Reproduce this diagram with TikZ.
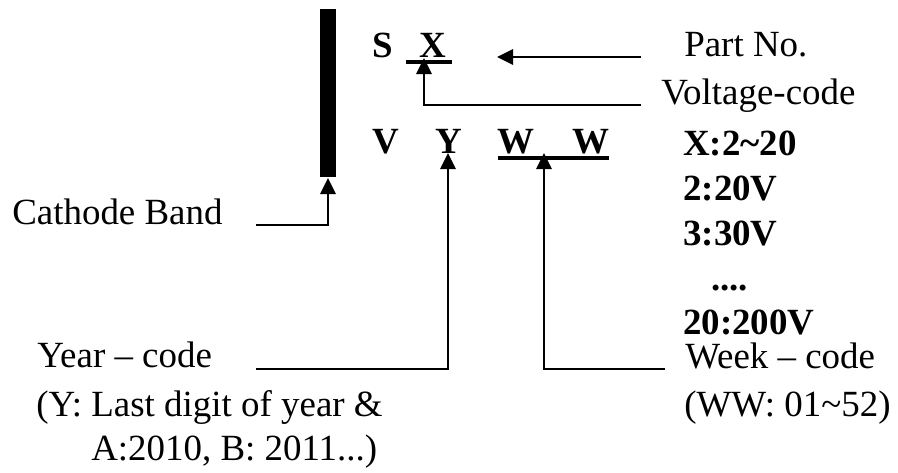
\documentclass[tikz,border=0pt]{standalone}
\usepackage{fontspec}
\setmainfont{Liberation Serif}
\usetikzlibrary{arrows.meta}
\tikzset{
 lbl/.style={inner sep=0pt,anchor=base west,font=\fontsize{27.7}{30}\selectfont},
 blbl/.style={lbl,font=\fontsize{27.7}{30}\selectfont\bfseries},
 conn/.style={line width=1.3pt,-{Triangle[length=12pt,width=11.5pt]}},
 rule/.style={line width=2.5pt}
}
\begin{document}
\begin{tikzpicture}[x=0.75pt,y=-0.75pt]
\useasboundingbox (0,0) rectangle (898,472);
\fill (320,9) rectangle (336,177);
\node[blbl] (s) at (372,57) {S};
\node[blbl] (x) at (419,57) {X};
\node[blbl] (v) at (372,153) {V};
\node[blbl] (y) at (435,153) {Y};
\node[blbl] (w1) at (497,153) {W};
\node[blbl] (w2) at (572,153) {W};
\node[lbl] (part) at (684,56) {Part No.};
\node[lbl] (volt) at (661,104) {Voltage-code};
\node[blbl] (xr) at (683,155) {X:2\textasciitilde20};
\node[blbl] (v2) at (683,200) {2:20V};
\node[blbl] (v3) at (683,245) {3:30V};
\node[blbl] (dots) at (711,290) {....};
\node[blbl] (v20) at (683,334) {20:200V};
\node[lbl] (cath) at (12,224) {Cathode Band};
\node[lbl] (year) at (37,367) {Year -- code};
\node[lbl] (yeara) at (36,416) {(Y: Last digit of year \&};
\node[lbl] (yearb) at (91,460) {A:2010, B: 2011...)};
\node[lbl] (week) at (685,368) {Week -- code};
\node[lbl] (weeka) at (684,416) {(WW: 01\textasciitilde52)};
\coordinate (barb) at (328,178);
\coordinate (a1) at (641,57);
\coordinate (a1e) at (497,57);
\coordinate (a2) at (641,105);
\coordinate (a2e) at (424,58);
\coordinate (a3) at (256,225);
\coordinate (a4) at (256,369);
\coordinate (a4e) at (448,153);
\coordinate (a5) at (665,369);
\coordinate (a5e) at (544,153);
\draw[rule] (406,62) -- (452,62);
\draw[rule] (498,158) -- (609,158);
\draw[conn] (a1) -- (a1e);
\draw[conn] (a2) -| (a2e);
\draw[conn] (a3) -| (barb);
\draw[conn] (a4) -| (a4e);
\draw[conn] (a5) -| (a5e);
\end{tikzpicture}
\end{document}
